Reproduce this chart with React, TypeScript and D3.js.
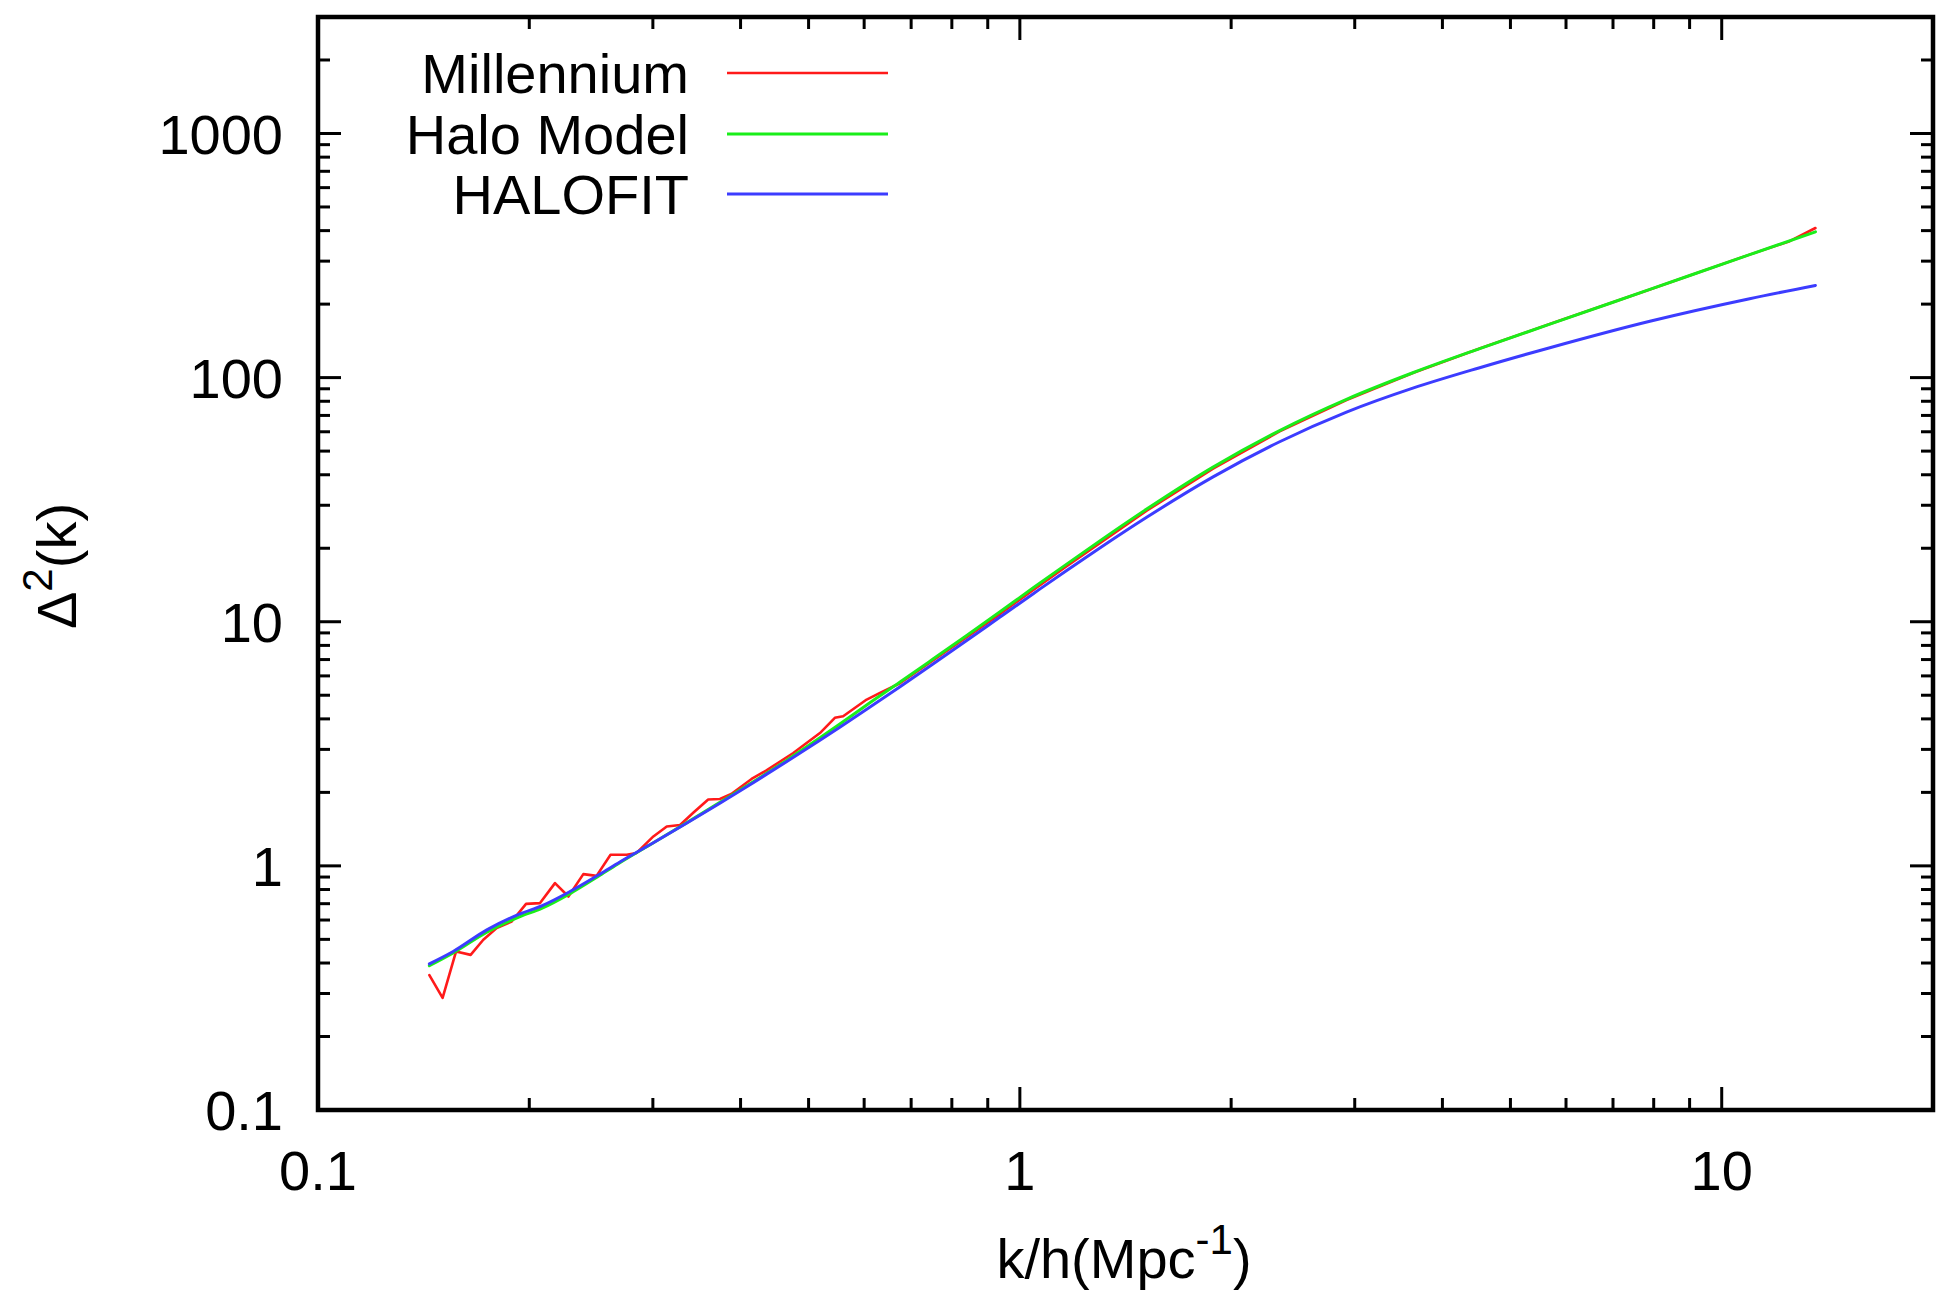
import React from 'react';
import * as d3 from 'd3';

const W = 1939;
const H = 1310;
const PLOT = { left: 318, right: 1933, top: 17, bottom: 1110 };

const xDomain = [0.1, 20];
const yDomain = [0.1, 3000];
const xTickValues = [0.1, 1, 10];
const xTickLabels = ['0.1', '1', '10'];
const yTickValues = [0.1, 1, 10, 100, 1000];
const yTickLabels = ['0.1', '1', '10', '100', '1000'];

const seriesNames = ['Millennium', 'Halo Model', 'HALOFIT'];
const seriesColors = ['#ff1a1a', '#1aee1a', '#3c3cff'];
const seriesWidths = [2.6, 3, 3];

const millenniumK = [0.1441, 0.1505, 0.1573, 0.165, 0.172, 0.1797, 0.1888, 0.1979, 0.2072, 0.2176, 0.2274, 0.2388, 0.2494, 0.2611, 0.2753, 0.2844, 0.3005, 0.314, 0.328, 0.3425, 0.3597, 0.3738, 0.388, 0.4147, 0.4355, 0.4755, 0.519, 0.545, 0.56, 0.605, 0.632, 0.675, 0.752, 0.84, 0.937, 1.045, 1.166, 1.3, 1.516, 1.885, 2.345, 2.92, 3.63, 4.52, 5.69, 7.9, 10.96, 12.5, 13.6];
const millenniumD = [0.357, 0.288, 0.446, 0.432, 0.498, 0.556, 0.592, 0.699, 0.704, 0.85, 0.749, 0.925, 0.91, 1.11, 1.11, 1.13, 1.32, 1.45, 1.47, 1.65, 1.87, 1.88, 1.97, 2.27, 2.46, 2.9, 3.5, 4.04, 4.1, 4.8, 5.11, 5.6, 6.95, 8.65, 10.75, 13.5, 16.9, 21.0, 28.5, 42.4, 60.2, 81.0, 104.5, 131.5, 165.7, 229.5, 319, 362, 410];

const haloK = [0.1441, 0.1558, 0.174, 0.194, 0.2083, 0.2286, 0.2522, 0.2692, 0.3005, 0.335, 0.3738, 0.417, 0.465, 0.519, 0.554, 0.605, 0.675, 0.752, 0.84, 0.937, 1.045, 1.166, 1.3, 1.516, 1.885, 2.345, 2.92, 3.63, 4.52, 5.69, 7.9, 10.96, 13.6];
const haloD = [0.39, 0.44, 0.535, 0.62, 0.67, 0.77, 0.915, 1.03, 1.243, 1.5, 1.82, 2.21, 2.704, 3.345, 3.81, 4.56, 5.66, 7.03, 8.79, 10.99, 13.77, 17.22, 21.43, 28.93, 43.0, 60.7, 81.5, 104.7, 131.5, 165.5, 229.8, 318.8, 395.6];

const halofitK = [0.1441, 0.1558, 0.174, 0.194, 0.2083, 0.2286, 0.2522, 0.2692, 0.3005, 0.335, 0.3738, 0.417, 0.465, 0.519, 0.554, 0.605, 0.675, 0.752, 0.84, 0.937, 1.045, 1.166, 1.3, 1.516, 1.885, 2.345, 2.92, 3.63, 4.52, 5.69, 7.9, 10.96, 13.6];
const halofitD = [0.397, 0.446, 0.547, 0.636, 0.686, 0.785, 0.925, 1.037, 1.243, 1.494, 1.806, 2.192, 2.672, 3.273, 3.7, 4.378, 5.42, 6.71, 8.37, 10.45, 13.03, 16.23, 20.05, 26.78, 39.2, 54.6, 72.2, 90.5, 109.8, 132.6, 170.2, 210.5, 238.5];

const FONT = '"Liberation Sans", Arial, Helvetica, sans-serif';
const FS = 56;

function minorTicks(domain: number[]) {
  const out: number[] = [];
  for (let e = -2; e <= 4; e++) {
    const d = Math.pow(10, e);
    for (let m = 2; m <= 9; m++) {
      const v = m * d;
      if (v > domain[0] * 1.0001 && v < domain[1] * 0.9999) out.push(v);
    }
  }
  return out;
}

export default function App() {
  const x = d3.scaleLog().domain(xDomain).range([PLOT.left, PLOT.right]);
  const y = d3.scaleLog().domain(yDomain).range([PLOT.bottom, PLOT.top]);

  const series = [
    { k: millenniumK, d: millenniumD, curve: d3.curveLinear },
    { k: haloK, d: haloD, curve: d3.curveMonotoneX },
    { k: halofitK, d: halofitD, curve: d3.curveMonotoneX },
  ];

  const makePath = (k: number[], d: number[], curve: any) =>
    d3
      .line<number>()
      .x((_, i) => x(k[i]))
      .y((v) => y(v))
      .curve(curve)(d) || '';

  const majorLen = 23;
  const minorLen = 12;
  const xMinor = minorTicks(xDomain);
  const yMinor = minorTicks(yDomain);

  const legendRows = [73, 134, 194];
  const legendTextRight = 689;
  const legendLine = [727, 888];
  const supShift = FS * 0.42;

  return (
    <svg
      width={W}
      height={H}
      viewBox={`0 0 ${W} ${H}`}
      style={{ position: 'absolute', left: 0, top: 0, background: '#fff' }}
      fontFamily={FONT}
    >
      <rect x={0} y={0} width={W} height={H} fill="#fff" />
      <defs>
        <clipPath id="plotclip">
          <rect x={PLOT.left} y={PLOT.top} width={PLOT.right - PLOT.left} height={PLOT.bottom - PLOT.top} />
        </clipPath>
      </defs>

      <g stroke="#000" strokeWidth={3}>
        {xTickValues.map((v) => (
          <g key={'xt' + v}>
            <line x1={x(v)} x2={x(v)} y1={PLOT.bottom} y2={PLOT.bottom - majorLen} />
            <line x1={x(v)} x2={x(v)} y1={PLOT.top} y2={PLOT.top + majorLen} />
          </g>
        ))}
        {xMinor.map((v) => (
          <g key={'xm' + v}>
            <line x1={x(v)} x2={x(v)} y1={PLOT.bottom} y2={PLOT.bottom - minorLen} />
            <line x1={x(v)} x2={x(v)} y1={PLOT.top} y2={PLOT.top + minorLen} />
          </g>
        ))}
        {yTickValues.map((v) => (
          <g key={'yt' + v}>
            <line y1={y(v)} y2={y(v)} x1={PLOT.left} x2={PLOT.left + majorLen} />
            <line y1={y(v)} y2={y(v)} x1={PLOT.right} x2={PLOT.right - majorLen} />
          </g>
        ))}
        {yMinor.map((v) => (
          <g key={'ym' + v}>
            <line y1={y(v)} y2={y(v)} x1={PLOT.left} x2={PLOT.left + minorLen} />
            <line y1={y(v)} y2={y(v)} x1={PLOT.right} x2={PLOT.right - minorLen} />
          </g>
        ))}
      </g>

      <g clipPath="url(#plotclip)" fill="none" strokeLinejoin="round" strokeLinecap="round">
        {series.map((s, i) => (
          <path key={i} d={makePath(s.k, s.d, s.curve)} stroke={seriesColors[i]} strokeWidth={seriesWidths[i]} />
        ))}
      </g>

      <rect
        x={PLOT.left}
        y={PLOT.top}
        width={PLOT.right - PLOT.left}
        height={PLOT.bottom - PLOT.top}
        fill="none"
        stroke="#000"
        strokeWidth={4.5}
      />

      <g fontSize={FS} fill="#000">
        {xTickValues.map((v, i) => (
          <text key={'xl' + v} x={x(v)} y={1190} textAnchor="middle">
            {xTickLabels[i]}
          </text>
        ))}
        {yTickValues.map((v, i) => (
          <text key={'yl' + v} x={283} y={y(v)} dy="0.36em" textAnchor="end">
            {yTickLabels[i]}
          </text>
        ))}
      </g>

      <text x={1124} y={1278} textAnchor="middle" fontSize={FS} fill="#000">
        k/h(Mpc
        <tspan fontSize={FS * 0.75} dy={-supShift}>-1</tspan>
        <tspan dy={supShift}>)</tspan>
      </text>
      <text transform={`translate(76, 566) rotate(-90)`} textAnchor="middle" fontSize={FS} fill="#000">
        Δ
        <tspan fontSize={FS * 0.75} dy={-supShift}>2</tspan>
        <tspan dy={supShift}>(k)</tspan>
      </text>

      <g fontSize={FS} fill="#000">
        {seriesNames.map((n, i) => (
          <g key={n}>
            <text x={legendTextRight} y={legendRows[i]} dy="0.36em" textAnchor="end">
              {n}
            </text>
            <line
              x1={legendLine[0]}
              x2={legendLine[1]}
              y1={legendRows[i]}
              y2={legendRows[i]}
              stroke={seriesColors[i]}
              strokeWidth={seriesWidths[i]}
            />
          </g>
        ))}
      </g>
    </svg>
  );
}
